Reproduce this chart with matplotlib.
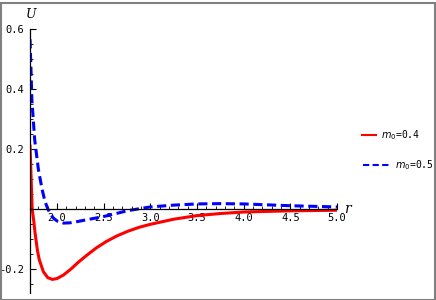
import matplotlib
matplotlib.use("Agg")
import matplotlib.pyplot as plt
from matplotlib.lines import Line2D
from matplotlib.patches import Rectangle
from matplotlib.ticker import MultipleLocator

# values
r_red = [1.71, 1.72, 1.733, 1.75, 1.764, 1.79, 1.81, 1.853, 1.90, 1.95,
         2.00, 2.07, 2.15, 2.23, 2.32, 2.42, 2.53, 2.64, 2.76, 2.88, 3.00,
         3.25, 3.50, 3.75, 4.00, 4.50, 5.00]
u_red = [0.214, 0.12, 0.0, -0.04, -0.08, -0.14, -0.171, -0.21, -0.230,
         -0.236, -0.233, -0.221, -0.201, -0.178, -0.155, -0.131, -0.109,
         -0.091, -0.075, -0.062, -0.052, -0.035, -0.023, -0.016, -0.011,
         -0.007, -0.005]

r_blue = [1.71, 1.72, 1.73, 1.76, 1.80, 1.84, 1.87, 1.90, 1.93, 1.96, 2.00,
          2.07, 2.14, 2.20, 2.28, 2.40, 2.50, 2.62, 2.75, 2.88, 3.00, 3.25,
          3.50, 3.75, 4.00, 4.25, 4.50, 4.75, 5.00]
u_blue = [0.566, 0.47, 0.365, 0.231, 0.131, 0.064, 0.025, 0.0, -0.018,
          -0.031, -0.041, -0.048, -0.047, -0.044, -0.039, -0.032, -0.026,
          -0.017, -0.007, 0.000, 0.006, 0.012, 0.016, 0.017, 0.016, 0.013,
          0.010, 0.008, 0.006]

labels = ["0.4", "0.5"]
x_ticks = [2.0, 2.5, 3.0, 3.5, 4.0, 4.5, 5.0]
y_ticks = [-0.2, 0.2, 0.4, 0.6]

mono = "DejaVu Sans Mono"

fig = plt.figure(figsize=(4.36, 3.0), dpi=100)
ax = fig.add_axes([30 / 436, 1 - 292.6 / 300, 307 / 436, (292.6 - 29) / 300])

ax.plot(r_red, u_red, color="#ff0000", lw=2.2, solid_capstyle="butt")
ax.plot(r_blue, u_blue, color="#0000ff", lw=2.2, ls=(0, (3, 1.5)))

ax.set_xlim(1.71, 5.0)
ax.set_ylim(-0.28, 0.6)

ax.spines["right"].set_visible(False)
ax.spines["top"].set_visible(False)
ax.spines["bottom"].set_position(("data", 0))
ax.spines["left"].set_position(("data", 1.71))
for s in ("bottom", "left"):
    ax.spines[s].set_linewidth(0.9)

ax.set_xticks(x_ticks)
ax.set_xticklabels(["%.1f" % v for v in x_ticks])
ax.set_yticks(y_ticks)
ax.set_yticklabels(["%.1f" % v for v in y_ticks])
ax.xaxis.set_minor_locator(MultipleLocator(0.1))
ax.yaxis.set_minor_locator(MultipleLocator(0.05))
ax.tick_params(axis="x", which="both", direction="in", pad=3)
ax.tick_params(axis="y", which="both", direction="in", pad=4)
ax.tick_params(which="major", length=4, width=0.8)
ax.tick_params(which="minor", length=2, width=0.6)
for t in ax.get_xticklabels() + ax.get_yticklabels():
    t.set_fontfamily(mono)
    t.set_fontsize(7.5)

fig.text(31 / 436, 1 - 14 / 300, "U", style="italic", family="serif",
         fontsize=9, ha="center", va="center")
fig.text(347 / 436, 1 - 209 / 300, "r", style="italic", family="serif",
         fontsize=10, ha="center", va="center")

# legend
fig.add_artist(Line2D([362 / 436, 376 / 436], [1 - 135 / 300] * 2,
                      color="#ff0000", lw=1.5))
fig.add_artist(Line2D([363 / 436, 390 / 436], [1 - 165 / 300] * 2,
                      color="#0000ff", lw=1.5, ls=(0, (3, 1.6))))
fig.text(381 / 436, 1 - 135 / 300, r"$m_0$=" + labels[0], family=mono,
         fontsize=7, va="center")
fig.text(395 / 436, 1 - 165 / 300, r"$m_0$=" + labels[1], family=mono,
         fontsize=7, va="center")

# outer frame
fig.add_artist(Rectangle((0.5 / 436, 0.5 / 300), 434 / 436, 297 / 300,
                         transform=fig.transFigure, fill=False,
                         edgecolor="#808080", lw=1.5))

fig.savefig("out.png", dpi=100)
